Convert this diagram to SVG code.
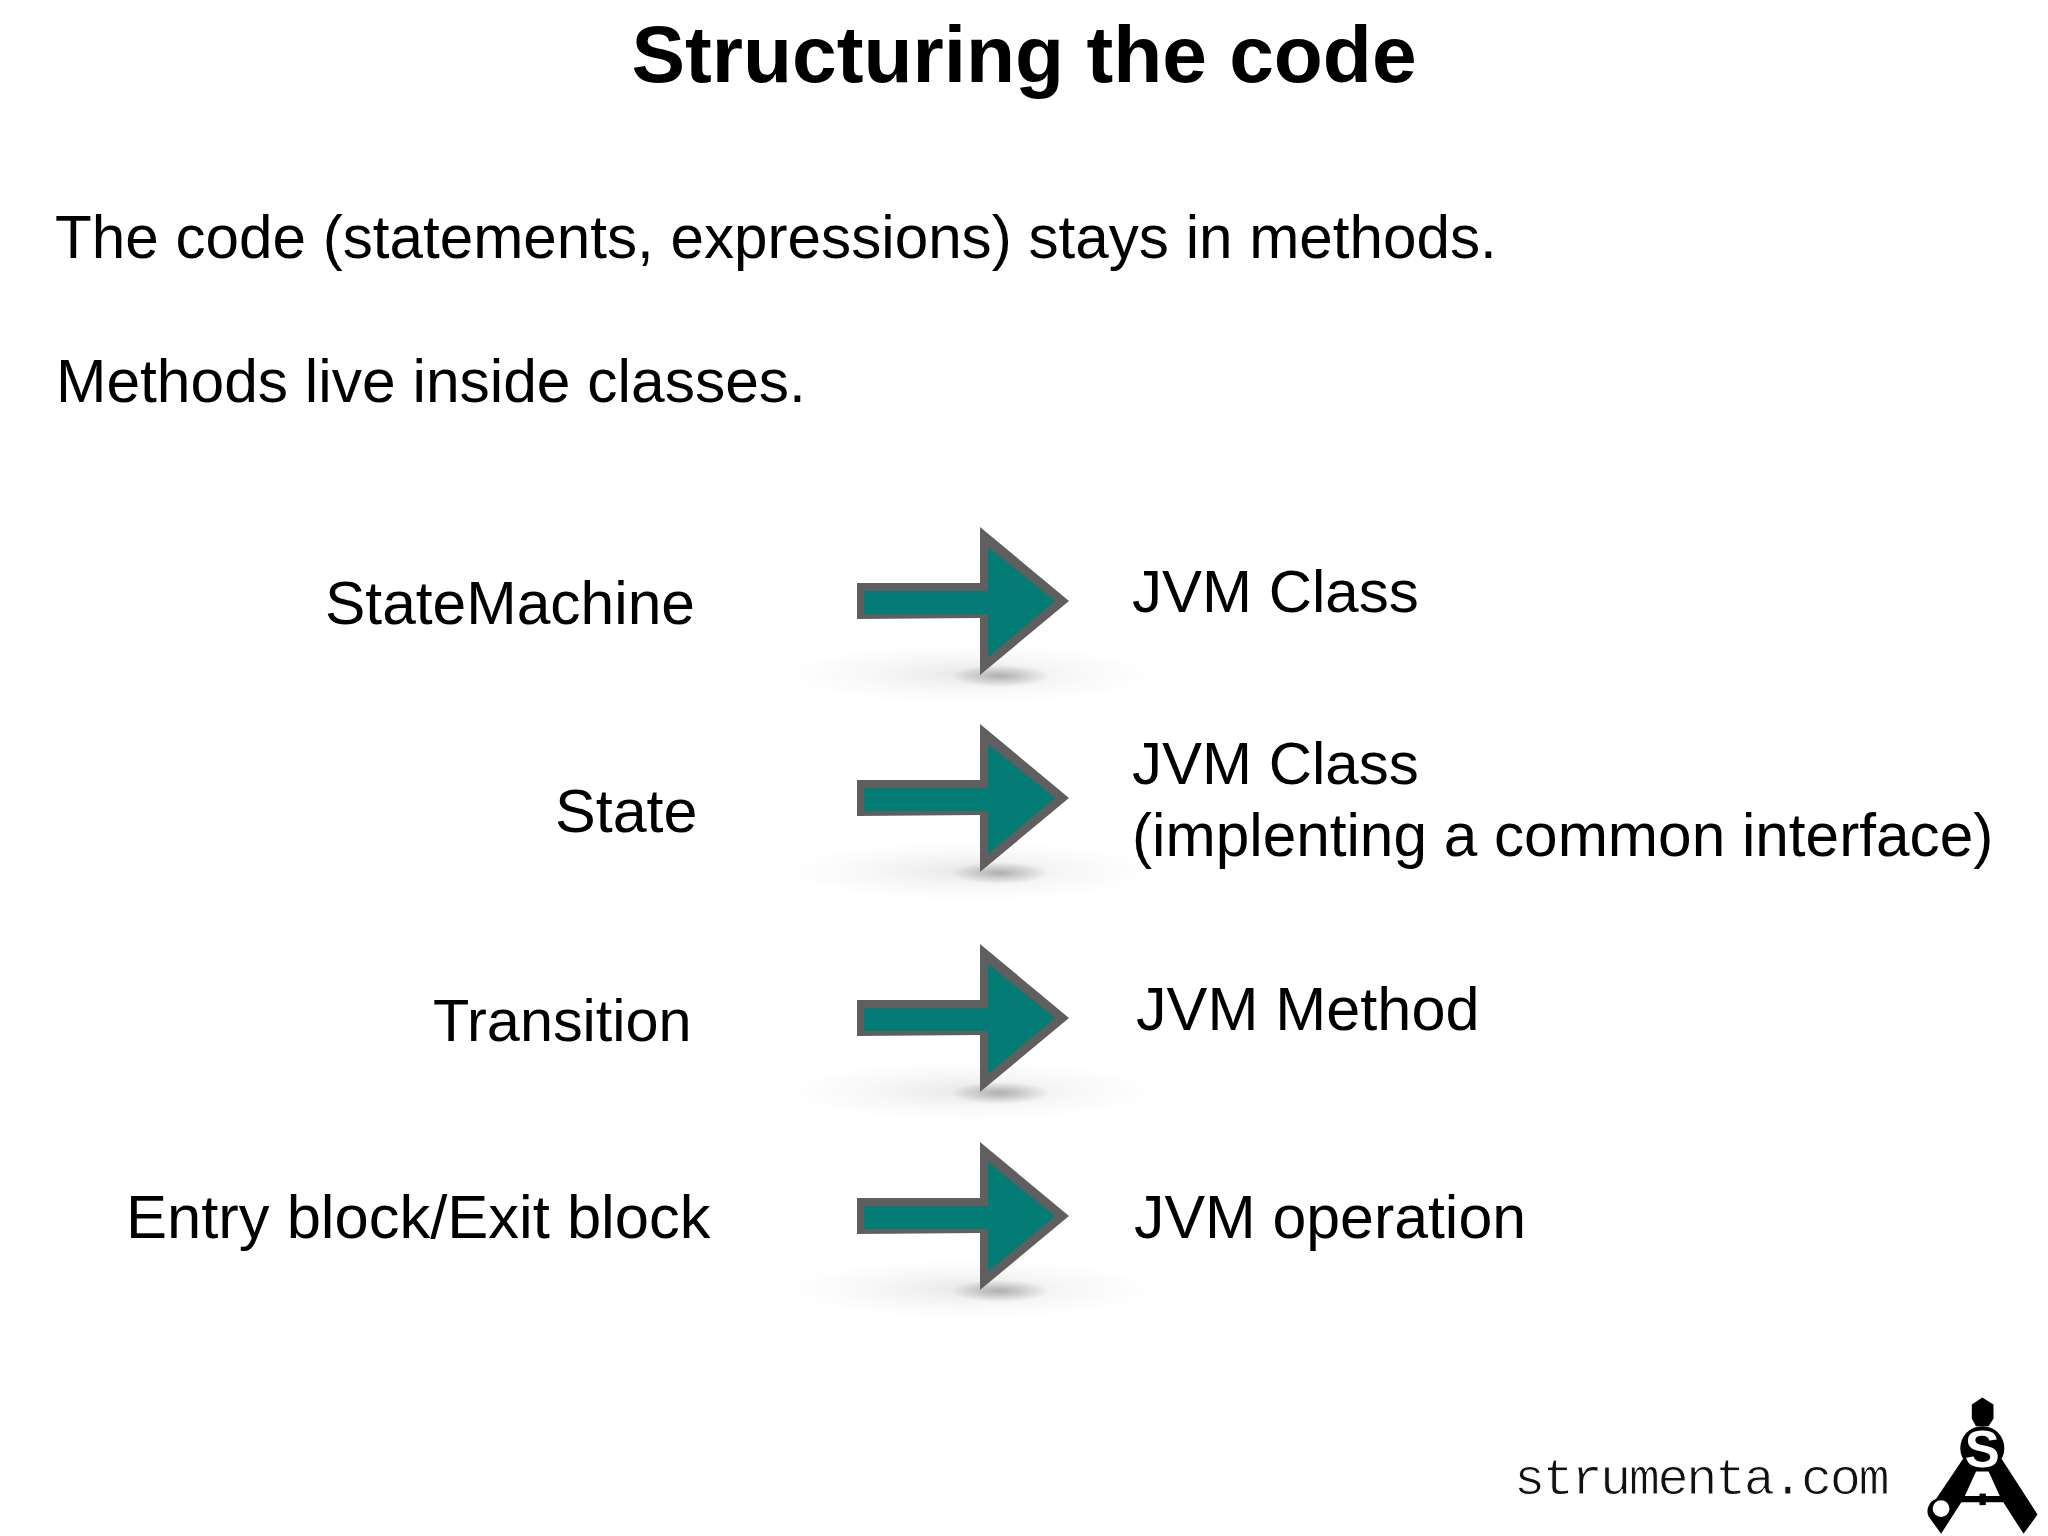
<svg xmlns="http://www.w3.org/2000/svg" xmlns:xlink="http://www.w3.org/1999/xlink" width="2048" height="1536" viewBox="0 0 2048 1536">
<style>
text{font-family:"Liberation Sans",Arial,sans-serif;fill:#000;font-size:60.5px}
.title{font-size:80.3px;font-weight:700}
.mono{font-family:"Liberation Mono",monospace;font-size:52px;letter-spacing:-2.5px;fill:#111;stroke:#fff;stroke-width:.9px}
</style>
<defs>
<radialGradient id="s1"><stop offset="0" stop-color="#000" stop-opacity=".09"/><stop offset=".55" stop-color="#000" stop-opacity=".03"/><stop offset="1" stop-color="#000" stop-opacity="0"/></radialGradient>
<radialGradient id="s2"><stop offset="0" stop-color="#000" stop-opacity=".26"/><stop offset="1" stop-color="#000" stop-opacity="0"/></radialGradient>
<g id="arrow">
<ellipse cx="971" cy="675" rx="185" ry="30" fill="url(#s1)"/>
<ellipse cx="1000" cy="677" rx="50" ry="11" fill="url(#s2)"/>
<path d="M857 584H980V528L1069 602L980 676V619L857 620Z" fill="#5f5f5f"/>
<path d="M864 592H988V548L1055 602L988 658V615L864 615Z" fill="#027c74"/>
</g>
</defs>
<rect width="2048" height="1536" fill="#fff"/>
<text class="title" x="1024" y="82" text-anchor="middle">Structuring the code</text>
<text x="55" y="258" style="font-size:60.2px">The code (statements, expressions) stays in methods.</text>
<text x="56" y="402">Methods live inside classes.</text>
<g id="connectors">
<use xlink:href="#arrow" href="#arrow" y="-1"/>
<use xlink:href="#arrow" href="#arrow" y="196"/>
<use xlink:href="#arrow" href="#arrow" y="416"/>
<use xlink:href="#arrow" href="#arrow" y="614"/>
</g>
<g id="n1"><text x="325" y="624">StateMachine</text></g>
<g id="n2"><text x="555" y="832" style="font-size:61px">State</text></g>
<g id="n3"><text x="433" y="1041" style="font-size:59.4px">Transition</text></g>
<g id="n4"><text x="126" y="1238" style="font-size:61.5px">Entry block/Exit block</text></g>
<g id="n5"><text x="1132" y="612" style="font-size:60px">JVM Class</text></g>
<g id="n6"><text x="1132" y="784" style="font-size:60px">JVM Class</text><text x="1132" y="856" style="font-size:60.3px">(implenting a common interface)</text></g>
<g id="n7"><text x="1136" y="1030" style="font-size:61.2px">JVM Method</text></g>
<g id="n8"><text x="1134" y="1238" style="font-size:60.8px">JVM operation</text></g>
<text class="mono" x="1514" y="1494">strumenta.com</text>
<g id="logo" transform="translate(1500 1380) scale(.3495)">
<path d="M1380 50L1412 70V110L1398 132H1362L1350 110V70Z"/>
<circle cx="1380" cy="195" r="63"/>
<path d="M1325 225L1248 340A38 38 0 0 0 1226 390L1262 440L1320 350H1440L1498 440L1538 385L1435 225ZM1362 262H1398L1430 332H1330Z" fill-rule="evenodd"/>
<rect x="1372" y="325" width="18" height="33"/>
<circle cx="1262" cy="368" r="24" fill="#fff"/>
<text x="1380" y="249" text-anchor="middle" style="font-size:150px;font-weight:700;fill:#fff">S</text>
</g>
</svg>
